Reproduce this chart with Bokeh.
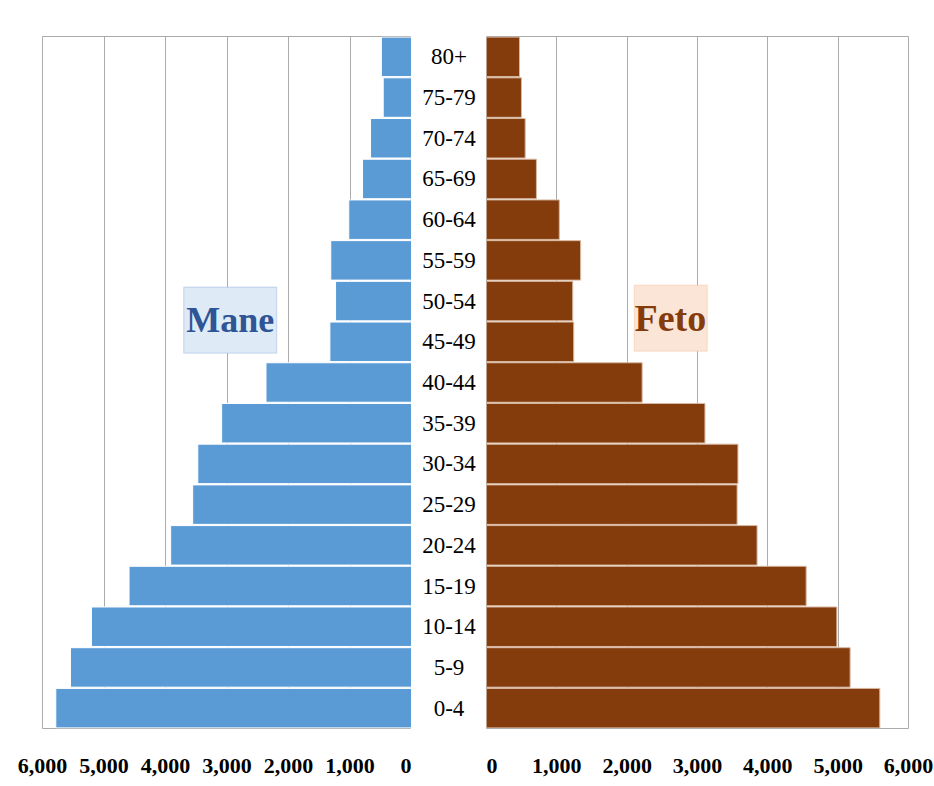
from bokeh.plotting import figure
from bokeh.layouts import row
from bokeh.models import (ColumnDataSource, FixedTicker, NumeralTickFormatter,
                          BoxAnnotation, Label, Range1d)
from bokeh.core.properties import value
from bokeh.embed import file_html
from bokeh.resources import INLINE

# ---- data (bottom to top) ----
ages = ["0-4", "5-9", "10-14", "15-19", "20-24", "25-29", "30-34", "35-39",
        "40-44", "45-49", "50-54", "55-59", "60-64", "65-69", "70-74", "75-79", "80+"]
mane = [5784, 5545, 5204, 4593, 3916, 3558, 3475, 3087,
        2366, 1327, 1235, 1313, 1020, 796, 666, 460, 490]
feto = [5592, 5170, 4981, 4545, 3847, 3563, 3575, 3106,
        2213, 1240, 1226, 1338, 1035, 710, 550, 497, 469]
ticks = [0, 1000, 2000, 3000, 4000, 5000, 6000]
left_title = "Mane"
right_title = "Feto"

SERIF = "Liberation Serif"
GRID = "#ABABAB"
H = 786
PLOT_H = 693

src = ColumnDataSource(dict(age=ages, mane=mane, feto=feto))


def style_axis(p):
    p.xaxis.ticker = FixedTicker(ticks=ticks)
    p.xaxis.formatter = NumeralTickFormatter(format="0,0")
    p.xaxis.axis_line_color = None
    p.xaxis.major_tick_line_color = None
    p.xaxis.minor_tick_line_color = None
    p.xaxis.major_label_standoff = 24
    p.xaxis.major_label_text_font = SERIF
    p.xaxis.major_label_text_font_style = "bold"
    p.xaxis.major_label_text_font_size = "22px"
    p.xaxis.major_label_text_color = "#000000"
    p.xgrid.ticker = FixedTicker(ticks=ticks)
    p.xgrid.grid_line_color = GRID
    p.ygrid.grid_line_color = None
    p.outline_line_color = GRID
    p.background_fill_color = "white"


# ---- left panel (Mane) ----
pl = figure(width=42 + 369, height=H, y_range=ages, x_range=Range1d(6000, 0),
            output_backend="svg", toolbar_location=None, y_axis_location=None,
            min_border=0)
pl.min_border_left = 42
pl.min_border_right = 0
pl.min_border_top = 36
pl.min_border_bottom = H - 36 - PLOT_H
style_axis(pl)
pl.hbar(y="age", left=0, right="mane", height=0.97, source=src,
        fill_color="#5B9BD5", line_color="#FFFFFF", line_width=1)
pl.add_layout(BoxAnnotation(left=3704, right=2193, bottom=9.22, top=10.84,
                            fill_color="#DEEAF6", fill_alpha=1.0,
                            line_color="#7F9FD6", line_width=1.3, level="underlay"))
pl.add_layout(Label(x=2949, y=10.03, text=left_title, text_font=SERIF,
                    text_font_style="bold", text_font_size="36px",
                    text_color="#2F5597", text_align="center",
                    text_baseline="middle", level="overlay"))

# ---- middle labels ----
pm = figure(width=75, height=H, y_range=ages, x_range=Range1d(0, 1),
            output_backend="svg", toolbar_location=None,
            x_axis_location=None, y_axis_location=None, min_border=0)
pm.min_border_top = 36
pm.min_border_bottom = H - 36 - PLOT_H
pm.outline_line_color = None
pm.xgrid.grid_line_color = None
pm.ygrid.grid_line_color = None
pm.text(x=0.5, y="age", text="age", source=src, text_align="center",
        text_baseline="middle", text_font=value(SERIF),
        text_font_size="23px", text_color="#000000")

# ---- right panel (Feto) ----
pr = figure(width=422 + 26, height=H, y_range=ages, x_range=Range1d(0, 6000),
            output_backend="svg", toolbar_location=None, y_axis_location=None,
            min_border=0)
pr.min_border_left = 0
pr.min_border_right = 26
pr.min_border_top = 35
pr.min_border_bottom = H - 35 - PLOT_H
style_axis(pr)
pr.hbar(y="age", left=0, right="feto", height=0.97, source=src,
        fill_color="#843C0C", line_color="#D8B8A2", line_width=1)
pr.add_layout(BoxAnnotation(left=2102, right=3139, bottom=9.27, top=10.89,
                            fill_color="#FBE5D6", fill_alpha=1.0,
                            line_color="#F4B183", line_width=1.3, level="underlay"))
pr.add_layout(Label(x=2614, y=10.08, text=right_title, text_font=SERIF,
                    text_font_style="bold", text_font_size="38px",
                    text_color="#843C0C", text_align="center",
                    text_baseline="middle", level="overlay"))

layout = row(pl, pm, pr)
open("out.html", "w").write(file_html(layout, INLINE))
